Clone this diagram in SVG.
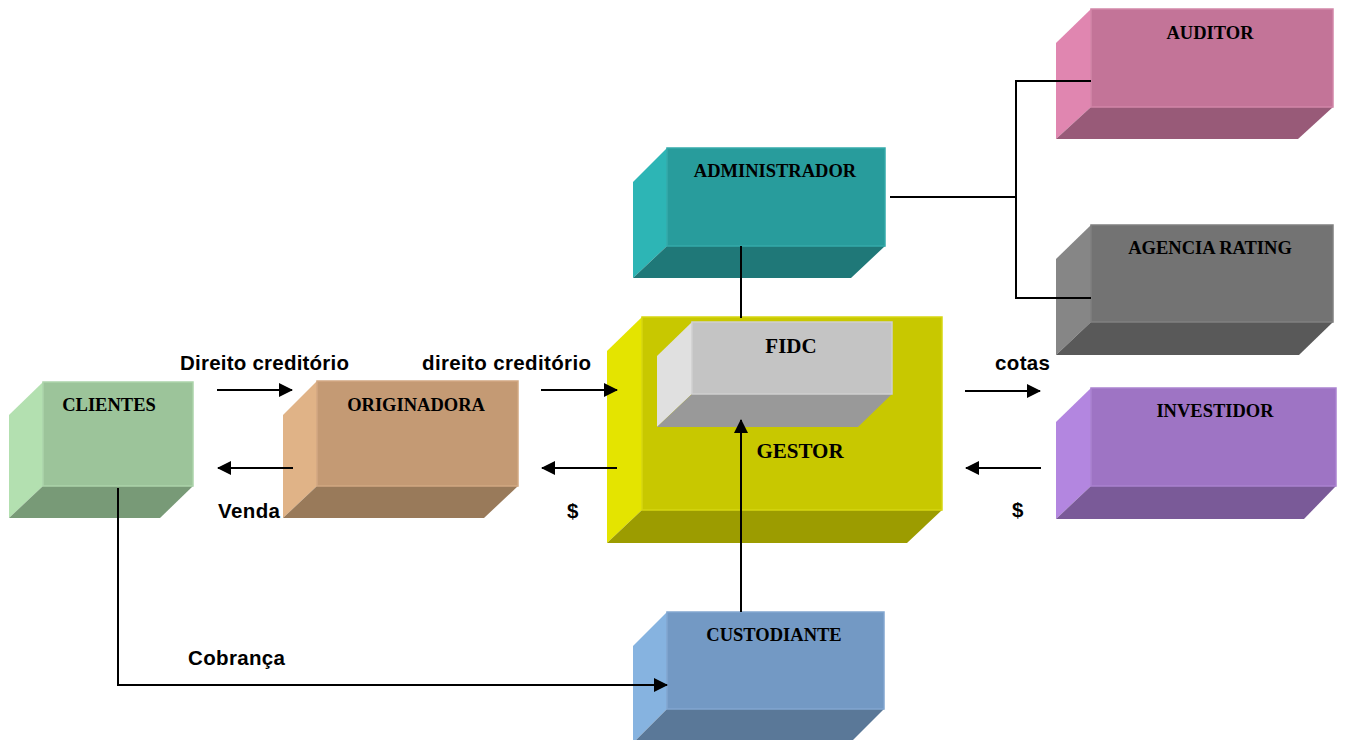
<svg xmlns="http://www.w3.org/2000/svg" width="1345" height="740" viewBox="0 0 1345 740">
  <style>
    .box-label { font-family: "Liberation Serif", "Times New Roman", serif; font-weight: bold; font-size: 18.5px; fill: #000; text-anchor: middle; }
    .box-label.big { font-size: 21px; }
    .flow-label { font-family: "Liberation Sans", Arial, sans-serif; font-weight: bold; font-size: 20.5px; fill: #000; }
    .line { fill: none; stroke: #000; stroke-width: 2; }
    .arrow { fill: none; stroke: #000; stroke-width: 2; marker-end: url(#head); }
  </style>
  <defs>
    <marker id="head" markerWidth="14" markerHeight="14" viewBox="0 0 14 14" refX="13" refY="7" orient="auto" markerUnits="userSpaceOnUse">
      <path d="M0,0 L14,7 L0,14 Z" fill="#000"/>
    </marker>
  </defs>
  <rect width="1345" height="740" fill="#fff"/>

  <!-- CLIENTES -->
  <g id="clientes">
    <polygon points="43,382 9,415 9,518 43,486" fill="#B3E0B0"/>
    <polygon points="43,486 193,486 160,518 9,518" fill="#789A77"/>
    <rect x="43" y="382" width="150" height="104" fill="#9CC49A" stroke="#ACD4AA" stroke-width="1.5"/>
    <text class="box-label" x="109" y="411">CLIENTES</text>
  </g>

  <!-- ORIGINADORA -->
  <g id="originadora">
    <polygon points="317,381 283,415 283,518 317,486" fill="#E0B387"/>
    <polygon points="317,486 518,486 484,518 283,518" fill="#997A5A"/>
    <rect x="317" y="381" width="201" height="105" fill="#C49A74" stroke="#D2A882" stroke-width="1.5"/>
    <text class="box-label" x="416" y="411">ORIGINADORA</text>
  </g>

  <!-- GESTOR with FIDC inside -->
  <g id="gestor">
    <polygon points="642,317 607,351 607,543 642,510" fill="#E4E400"/>
    <polygon points="642,510 942,510 907,543 607,543" fill="#9C9C00"/>
    <rect x="642" y="317" width="300" height="193" fill="#C8C800" stroke="#D6D610" stroke-width="1.5"/>
    <text class="box-label big" x="800" y="458">GESTOR</text>
  </g>
  <g id="fidc">
    <polygon points="692,322 657,356 657,427 692,394" fill="#E0E0E0"/>
    <polygon points="692,394 892,394 858,427 657,427" fill="#999999"/>
    <rect x="692" y="322" width="200" height="72" fill="#C4C4C4" stroke="#D0D0D0" stroke-width="1.5"/>
    <text class="box-label big" x="791" y="353">FIDC</text>
  </g>

  <!-- ADMINISTRADOR -->
  <g id="administrador">
    <polygon points="667,148 633,182 633,278 667,246" fill="#2DB5B5"/>
    <polygon points="667,246 885,246 851,278 633,278" fill="#1F7878"/>
    <rect x="667" y="148" width="218" height="98" fill="#289C9C" stroke="#34AAAA" stroke-width="1.5"/>
    <text class="box-label" x="775" y="177">ADMINISTRADOR</text>
  </g>

  <!-- AUDITOR -->
  <g id="auditor">
    <polygon points="1091,9 1056,43 1056,139 1091,107" fill="#E086B0"/>
    <polygon points="1091,107 1333,107 1298,139 1056,139" fill="#985A78"/>
    <rect x="1091" y="9" width="242" height="98" fill="#C37498" stroke="#D286A8" stroke-width="1.5"/>
    <text class="box-label" x="1210" y="39">AUDITOR</text>
  </g>

  <!-- AGENCIA RATING -->
  <g id="agencia-rating">
    <polygon points="1091,225 1056,259 1056,355 1091,322" fill="#868686"/>
    <polygon points="1091,322 1333,322 1299,355 1056,355" fill="#595959"/>
    <rect x="1091" y="225" width="242" height="97" fill="#737373" stroke="#808080" stroke-width="1.5"/>
    <text class="box-label" x="1210" y="254">AGENCIA RATING</text>
  </g>

  <!-- INVESTIDOR -->
  <g id="investidor">
    <polygon points="1091,388 1056,422 1056,519 1091,486" fill="#B386E0"/>
    <polygon points="1091,486 1336,486 1304,519 1056,519" fill="#7A5A98"/>
    <rect x="1091" y="388" width="245" height="98" fill="#9E74C4" stroke="#AA82D0" stroke-width="1.5"/>
    <text class="box-label" x="1215" y="417">INVESTIDOR</text>
  </g>

  <!-- CUSTODIANTE -->
  <g id="custodiante">
    <polygon points="667,612 633,646 633,743 667,709" fill="#86B3E0"/>
    <polygon points="667,709 884,709 850,743 633,743" fill="#5A7898"/>
    <rect x="667" y="612" width="217" height="97" fill="#7399C4" stroke="#82A6D0" stroke-width="1.5"/>
    <text class="box-label" x="774" y="641">CUSTODIANTE</text>
  </g>

  <!-- connectors -->
  <g id="connectors">
    <!-- administrador to gestor -->
    <line class="line" x1="741" y1="246" x2="741" y2="318"/>
    <!-- administrador to auditor / agencia rating -->
    <polyline class="line" points="890,197 1016,197"/>
    <polyline class="line" points="1091,81 1016,81 1016,298 1091,298"/>
    <!-- custodiante up to fidc -->
    <line class="arrow" x1="741" y1="612" x2="741" y2="420"/>
    <!-- clientes down and across to custodiante -->
    <polyline class="arrow" points="118,488 118,685 667,685"/>
    <!-- horizontal flows -->
    <line class="arrow" x1="217" y1="390" x2="292" y2="390"/>
    <line class="arrow" x1="541" y1="390" x2="617" y2="390"/>
    <line class="arrow" x1="293" y1="468" x2="218" y2="468"/>
    <line class="arrow" x1="617" y1="468" x2="542" y2="468"/>
    <line class="arrow" x1="965" y1="391" x2="1040" y2="391"/>
    <line class="arrow" x1="1041" y1="468" x2="966" y2="468"/>
  </g>

  <!-- flow labels -->
  <g id="flow-labels">
    <text class="flow-label" x="180" y="370" textLength="169" lengthAdjust="spacing">Direito creditório</text>
    <text class="flow-label" x="422" y="370" textLength="169" lengthAdjust="spacing">direito creditório</text>
    <text class="flow-label" x="995" y="370" textLength="55" lengthAdjust="spacing">cotas</text>
    <text class="flow-label" x="218" y="518" textLength="62" lengthAdjust="spacing">Venda</text>
    <text class="flow-label" x="567" y="518">$</text>
    <text class="flow-label" x="1012" y="517">$</text>
    <text class="flow-label" x="188" y="665" textLength="97" lengthAdjust="spacing">Cobrança</text>
  </g>
</svg>
